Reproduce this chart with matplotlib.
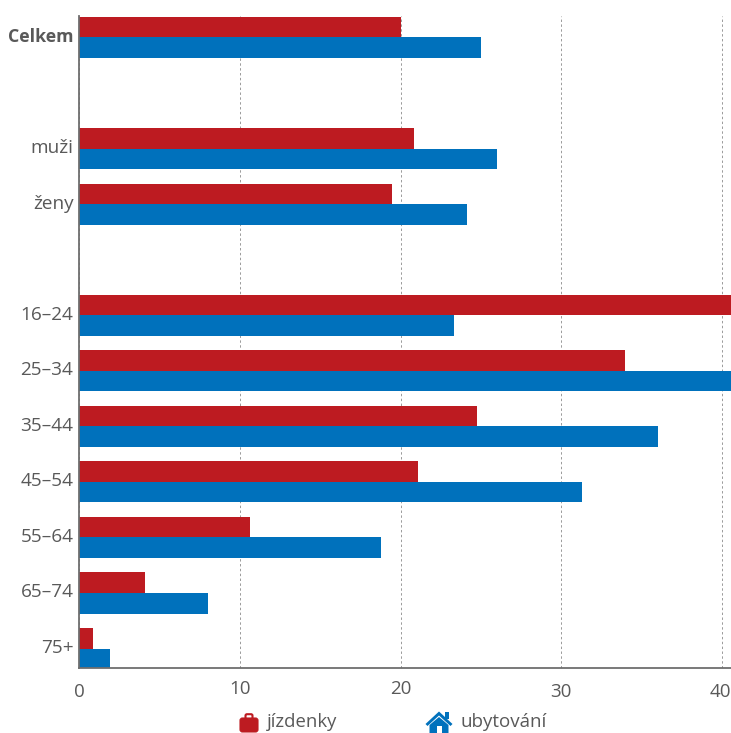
import matplotlib
matplotlib.use('Agg')
import matplotlib.pyplot as plt
from matplotlib.patches import FancyBboxPatch, Polygon, Rectangle
from matplotlib.transforms import ScaledTranslation
import numpy as np

plt.rcParams['font.family'] = ['Open Sans', 'DejaVu Sans']

categories = ['Celkem', '', 'muži', 'ženy', '', '16–24', '25–34', '35–44', '45–54', '55–64', '65–74', '75+']
jizdenky = [20.05, np.nan, 20.85, 19.45, np.nan, 41.5, 33.95, 24.75, 21.1, 10.65, 4.1, 0.85]
ubytovani = [25.0, np.nan, 26.0, 24.15, np.nan, 23.3, 41.0, 36.0, 31.3, 18.8, 8.0, 1.9]
x_ticks = [0, 10, 20, 30, 40]
tick_pads = [11, 9, 9, 11, 11]

RED = '#bd1b21'
BLUE = '#0071bc'
TEXT = '#595959'

fig = plt.figure(figsize=(7.31, 7.33), dpi=100)
ax = fig.add_axes([79 / 731, 1 - 668 / 733, (731 - 79) / 731, (668 - 16) / 733])

y = np.arange(len(categories))
bar_h = 0.37
ax.barh(y - bar_h / 2, jizdenky, height=bar_h, color=RED, zorder=3)
ax.barh(y + bar_h / 2, ubytovani, height=bar_h, color=BLUE, zorder=3)

ax.set_xlim(0, 40.55)
ax.set_ylim(11.35, -0.385)

ax.set_yticks(y[[i for i, c in enumerate(categories) if c]])
ax.set_yticklabels([c for c in categories if c], fontsize=13.7, color=TEXT)
ax.get_yticklabels()[0].set_fontweight('bold')
ax.get_yticklabels()[0].set_fontsize(12.8)
ax.set_xticks(x_ticks)
ax.set_xticklabels([str(v) for v in x_ticks], fontsize=13.5, color=TEXT)
ax.tick_params(axis='both', length=0)
ax.tick_params(axis='y', pad=4)
for tick, pad in zip(ax.xaxis.get_major_ticks(), tick_pads):
    tick.set_pad(pad)

# popisky o kousek nahoru, posledni x popisek trochu doleva
up = ScaledTranslation(0, 2.5 / 100, fig.dpi_scale_trans)
for lab in ax.get_yticklabels():
    lab.set_transform(lab.get_transform() + up)
left = ScaledTranslation(-2 / 100, 0, fig.dpi_scale_trans)
last = ax.get_xticklabels()[-1]
last.set_transform(last.get_transform() + left)

ax.grid(axis='x', color='#9a9a9a', linestyle=(0, (2.5, 2.5)), linewidth=0.7, zorder=0)
ax.grid(axis='y', visible=False)
ax.set_axisbelow(True)
for side in ['top', 'right']:
    ax.spines[side].set_visible(False)
for side in ['left', 'bottom']:
    ax.spines[side].set_color('#6e6e6e')
    ax.spines[side].set_linewidth(1.3)
    ax.spines[side].set_zorder(4)

# legenda - ikony v pixelech
lg = fig.add_axes([0, 0, 1, 1], facecolor='none')
lg.set_xlim(0, 731)
lg.set_ylim(733, 0)
lg.axis('off')

# kufr
lg.add_patch(FancyBboxPatch((240, 718), 18, 14, boxstyle='round,pad=0,rounding_size=2.5', fc=RED, ec=RED, lw=0.8))
lg.add_patch(FancyBboxPatch((245.5, 714.2), 7, 5, boxstyle='round,pad=0,rounding_size=1.5', fc='none', ec=RED, lw=1.5))

# domek
lg.add_patch(Polygon([(425.5, 724), (439, 711.5), (452.5, 724), (450.5, 726), (439, 715.5), (427.5, 726)], fc=BLUE, ec='none'))
lg.add_patch(Rectangle((445, 712), 4, 7, fc=BLUE, ec='none'))
lg.add_patch(Polygon([(429.5, 733), (429.5, 725), (439, 717), (448.5, 725), (448.5, 733)], fc=BLUE, ec='none'))
lg.add_patch(Rectangle((436.5, 726), 5, 7, fc='white', ec='none'))

lg.text(267, 722, 'jízdenky', fontsize=13.3, color=TEXT, va='center', ha='left')
lg.text(461, 722, 'ubytování', fontsize=13.5, color=TEXT, va='center', ha='left')

fig.savefig('out.png', dpi=100)
